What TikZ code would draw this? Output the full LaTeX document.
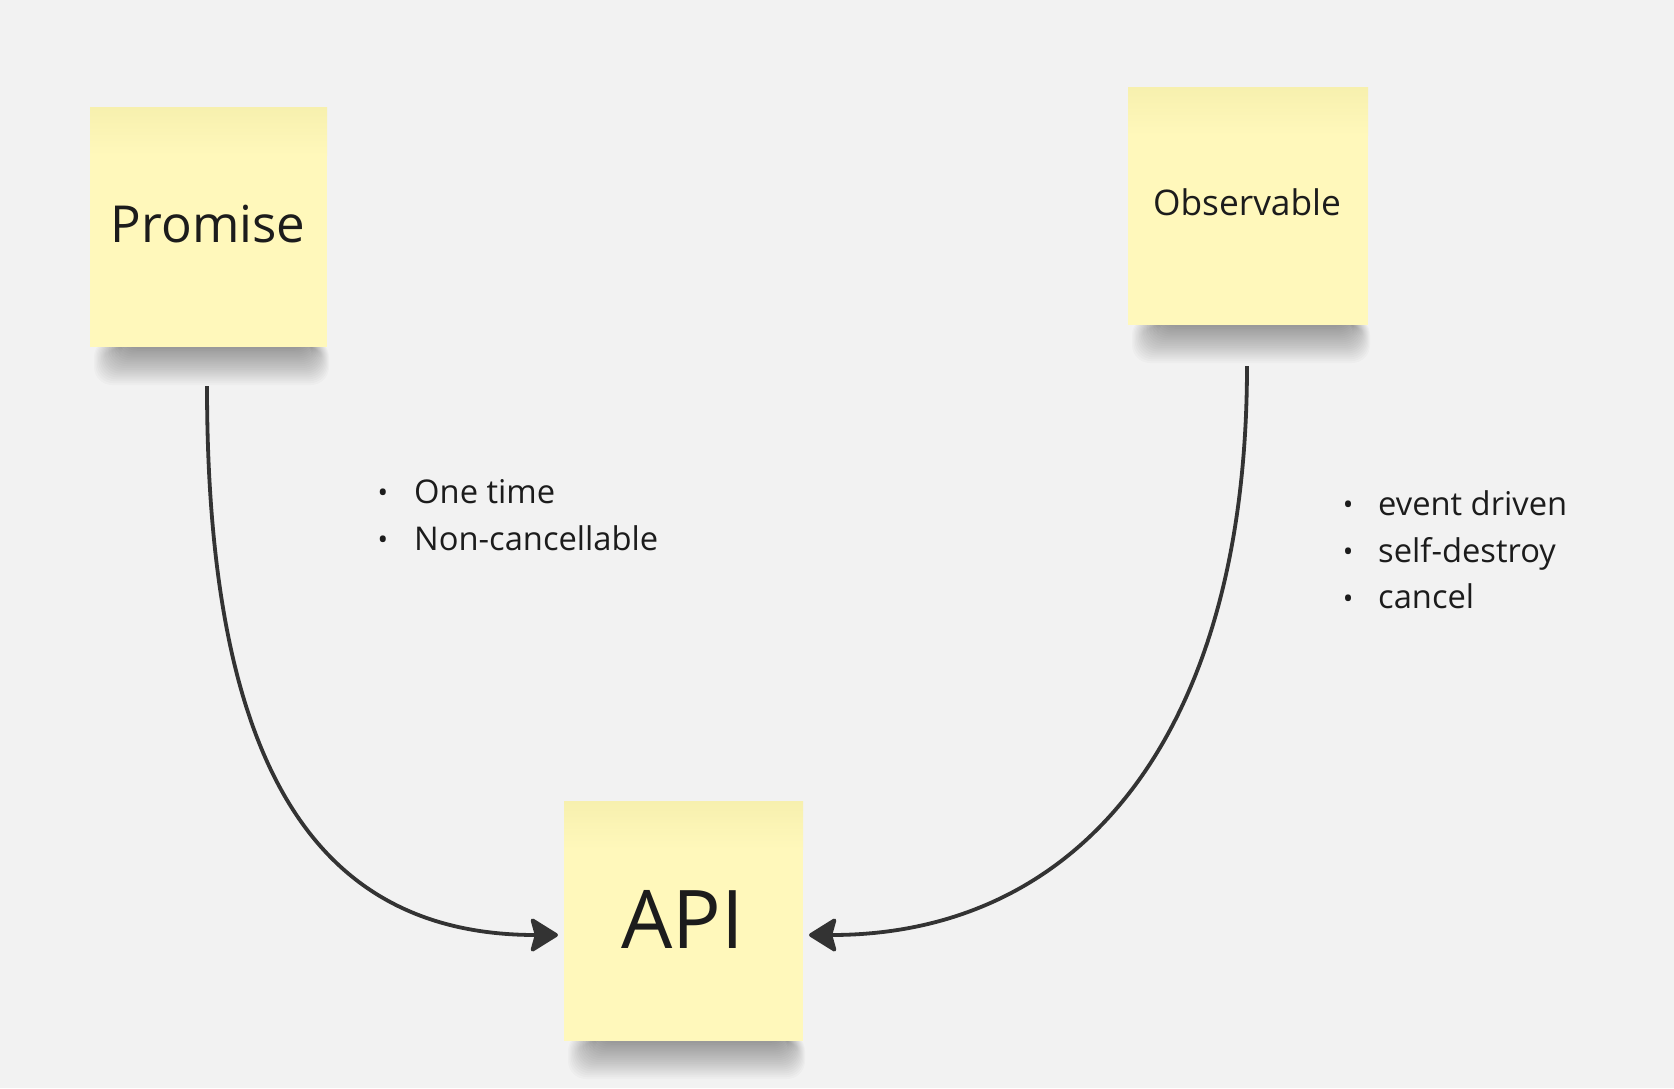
\documentclass[tikz,border=0pt]{standalone}
\usepackage{fontspec}
\setmainfont{Open Sans}
\usetikzlibrary{arrows.meta}
\definecolor{bg}{HTML}{F2F2F2}
\definecolor{note}{HTML}{FFF8BB}
\definecolor{notetop}{HTML}{F7F0AE}
\definecolor{ink}{HTML}{1C1C1C}
\definecolor{wire}{HTML}{333333}
\tikzset{
  conn/.style={draw=wire, line width=3.8pt, -{Stealth[length=30pt,width=37pt,inset=5pt,round,fill=wire]}},
  listtext/.style={anchor=base west, inner sep=0pt, text=ink, font=\fontsize{32.7}{38}\selectfont},
  bulletmark/.style={anchor=center, inner sep=0pt, text=ink, font=\fontsize{28}{28}\selectfont},
  notelabel/.style={anchor=base, inner sep=0pt, text=ink}
}
\newcommand{\stickynote}[4]{%
  \foreach \i in {0,...,19}{
    \fill[black,opacity=0.018,rounded corners=18pt] (#1+4+\i*1.4, #4-8) rectangle (#3+2-\i*0.9, #4+38-\i*1.9);
  }
  \fill[note] (#1,#2) rectangle (#3,#4);
  \shade[top color=notetop, bottom color=note] (#1,#2) rectangle (#3,#2+48);
}
\begin{document}
\begin{tikzpicture}[x=1pt,y=-1pt]
\fill[bg] (0,0) rectangle (1674,1088);
\useasboundingbox (0,0) rectangle (1674,1088);

% notes
\stickynote{90}{107}{327}{347}
\stickynote{1128}{87}{1368}{325}
\stickynote{564}{801}{803}{1041}

\node[notelabel, font=\fontsize{51}{60}\selectfont] (promise) at (208,242) {Promise};
\node[notelabel, font=\fontsize{35.3}{42}\selectfont] (observable) at (1247,215) {Observable};
\node[notelabel, font=\fontsize{81}{96}\selectfont] (api) at (683,948) {API};

% connector endpoints
\coordinate (pstart) at (207,386);
\coordinate (ostart) at (1247,366);
\coordinate (apiL) at (558,935);
\coordinate (apiR) at (809,935);

\draw[conn] (pstart) .. controls (207,770) and (318,935) .. (apiL);
\draw[conn] (ostart) .. controls (1247,735) and (1080,935) .. (apiR);

% lists
\node[bulletmark] (b1) at (383,496) {•};
\node[listtext] (t1) at (414,503) {One time};
\node[bulletmark] (b2) at (383,543) {•};
\node[listtext] (t2) at (414,550) {Non-cancellable};

\node[bulletmark] (b3) at (1348,508) {•};
\node[listtext] (t3) at (1378,515) {event driven};
\node[bulletmark] (b4) at (1348,555) {•};
\node[listtext] (t4) at (1378,562) {self-destroy};
\node[bulletmark] (b5) at (1348,602) {•};
\node[listtext] (t5) at (1378,608) {cancel};
\end{tikzpicture}
\end{document}
